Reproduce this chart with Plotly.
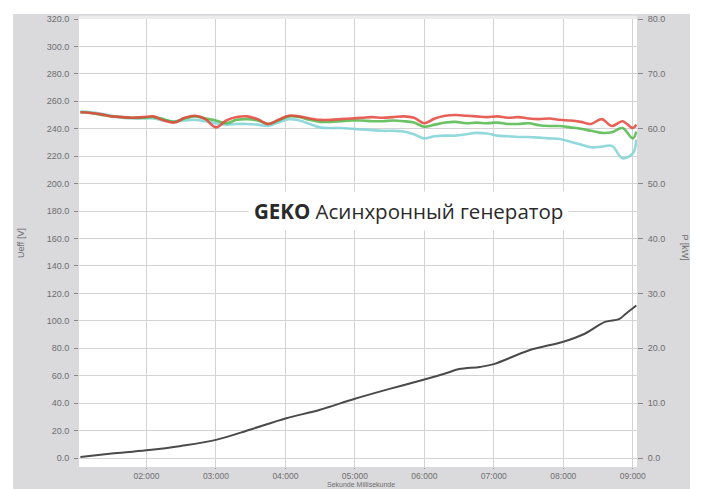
import plotly.graph_objects as go

# time in minutes
t_u = [1.05, 1.20, 1.35, 1.50, 1.65, 1.80, 1.95, 2.10, 2.25, 2.40, 2.55, 2.70, 2.85, 3.00,
       3.15, 3.30, 3.45, 3.60, 3.75, 3.90, 4.05, 4.20, 4.35, 4.50, 4.65, 4.80, 4.95, 5.10,
       5.25, 5.40, 5.55, 5.70, 5.85, 6.00, 6.15, 6.30, 6.45, 6.60, 6.75, 6.90, 7.05, 7.20,
       7.35, 7.50, 7.65, 7.80, 7.95, 8.10, 8.25, 8.40, 8.55, 8.70, 8.85, 9.00, 9.05]

u_l1 = [252, 251.5, 250.5, 249, 248.5, 248, 248.5, 249, 246, 244.5, 248, 249.5, 247, 241,
        246, 248.5, 249, 247, 243.5, 246.5, 249.5, 249, 247.5, 246.5, 246.5, 247, 247.5, 248,
        248.5, 248, 248.5, 249, 248, 244, 247.5, 249.5, 250, 249.5, 249, 248.5, 249, 248,
        248.5, 247.5, 247, 247.5, 246.5, 246, 245, 243.5, 247, 242, 245.5, 240.5, 243]

u_l2 = [252, 251.5, 250, 249, 248.5, 248, 248, 248.5, 247, 245, 247.5, 249, 247.5, 246,
        244, 246.5, 247, 246, 243.5, 246, 249, 248.5, 246.5, 245, 245, 245.5, 246, 246,
        245.5, 245.5, 246, 245.5, 244.5, 241.5, 243, 244.5, 245, 244, 244.5, 244, 244.5, 243.5,
        243.5, 244, 242.5, 242, 242, 241, 240, 238.5, 237, 237.5, 240.5, 233, 238]

u_l3 = [252.5, 252, 251, 249.5, 248, 247.5, 247.5, 247.5, 246, 245.5, 246, 246.5, 245.5, 244,
        243, 243.5, 243.5, 243, 242, 244.5, 247, 246, 243.5, 241, 240.5, 240.5, 240, 239.5,
        239, 238.5, 238.5, 238, 236, 233, 234.5, 235, 235, 236, 237, 236.5, 235, 234.5,
        234, 234, 233.5, 233, 232.5, 230.5, 228.5, 226.5, 227, 227.5, 218.5, 222, 232]

t_p = [1.05, 1.5, 2.0, 2.5, 3.0, 3.5, 4.0, 4.5, 5.0, 5.5, 6.0, 6.3, 6.5, 6.8, 7.0,
       7.5, 8.0, 8.3, 8.6, 8.8, 8.9, 9.0, 9.05]
p_kw = [0.2, 0.8, 1.4, 2.2, 3.3, 5.2, 7.2, 8.8, 10.8, 12.6, 14.3, 15.4, 16.2, 16.6, 17.1,
        19.6, 21.2, 22.6, 24.8, 25.3, 26.3, 27.3, 27.8]

x_ticks = [2, 3, 4, 5, 6, 7, 8, 9]
x_ticktext = ["02:000", "03:000", "04:000", "05:000", "06:000", "07:000", "08:000", "09:000"]
left_ticks = [0, 20, 40, 60, 80, 100, 120, 140, 160, 180, 200, 220, 240, 260, 280, 300, 320]
right_ticks = [0, 10, 20, 30, 40, 50, 60, 70, 80]

FONT = "Liberation Sans"
TICKC = "#6e6e6e"

fig = go.Figure()
fig.add_trace(go.Scatter(x=t_u, y=u_l3, mode="lines", line=dict(color="#7fd3d7", width=2.6),
                         opacity=0.85, line_shape="spline", yaxis="y"))
fig.add_trace(go.Scatter(x=t_u, y=u_l2, mode="lines", line=dict(color="#52b94c", width=2.6),
                         opacity=0.85, line_shape="spline", yaxis="y"))
fig.add_trace(go.Scatter(x=t_u, y=u_l1, mode="lines", line=dict(color="#e5463c", width=2.6),
                         opacity=0.85, line_shape="spline", yaxis="y"))
fig.add_trace(go.Scatter(x=t_p, y=p_kw, mode="lines", line=dict(color="#4a4a4a", width=2),
                         line_shape="spline", yaxis="y2"))

shapes = [
    dict(type="rect", xref="paper", yref="paper", x0=-0.1183, x1=1.095, y0=-0.09, y1=1.011,
         fillcolor="#dadadd", line_width=0, layer="below"),
    dict(type="rect", xref="paper", yref="paper", x0=0, x1=1, y0=0, y1=1,
         fillcolor="#ffffff", line_width=0, layer="below"),
    dict(type="rect", xref="paper", yref="paper", x0=0, x1=1, y0=1.0, y1=1.0075,
         fillcolor="#ececec", line_width=0, layer="below"),
]

fig.update_layout(
    width=702, height=489,
    margin=dict(l=71, r=73, t=6, b=30),
    paper_bgcolor="#ffffff", plot_bgcolor="rgba(0,0,0,0)",
    showlegend=False,
    shapes=shapes,
    font=dict(family=FONT, size=9, color=TICKC),
    xaxis=dict(range=[1.03, 9.06], tickvals=x_ticks, ticktext=x_ticktext,
               showgrid=True, gridcolor="#d3d3d3", gridwidth=1, zeroline=False,
               ticks="outside", ticklen=1, tickcolor="#999", showline=False,
               tickfont=dict(size=8.5, color=TICKC, family=FONT)),
    yaxis=dict(range=[-6.56, 320], tickvals=left_ticks, tickformat=".1f",
               showgrid=True, gridcolor="#d3d3d3", gridwidth=1, zeroline=False,
               ticks="outside", ticklen=4, tickcolor="#888", showline=False,
               ticklabelstandoff=3,
               tickfont=dict(size=9, color=TICKC, family=FONT)),
    yaxis2=dict(range=[-1.64, 80], tickvals=right_ticks, tickformat=".1f",
                overlaying="y", side="right", showgrid=False, zeroline=False,
                ticks="outside", ticklen=5, tickcolor="#888", showline=False,
                ticklabelstandoff=3,
                tickfont=dict(size=9, color=TICKC, family=FONT)),
    annotations=[
        dict(text="<b>GEKO</b> Асинхронный генератор", xref="paper", yref="paper",
             x=0.5905, y=0.572, xanchor="center", yanchor="middle", showarrow=False,
             bgcolor="#ffffff", borderpad=5,
             font=dict(family="Open Sans", size=20.5, color="#2a2a2a")),
        dict(text="Ueff [V]", xref="paper", yref="paper", x=-0.104, y=0.5,
             xanchor="center", textangle=-90, showarrow=False,
             font=dict(size=9, color=TICKC, family=FONT)),
        dict(text="P [kW]", xref="paper", yref="paper", x=1.0986, y=0.49,
             textangle=90, showarrow=False,
             font=dict(size=9, color=TICKC, family=FONT)),
        dict(text="Sekunde Millisekunde", xref="paper", yref="paper", x=0.505, y=-0.0513,
             yanchor="bottom", showarrow=False, font=dict(size=7, color=TICKC, family=FONT)),
    ],
)

fig.write_html("out.html")
